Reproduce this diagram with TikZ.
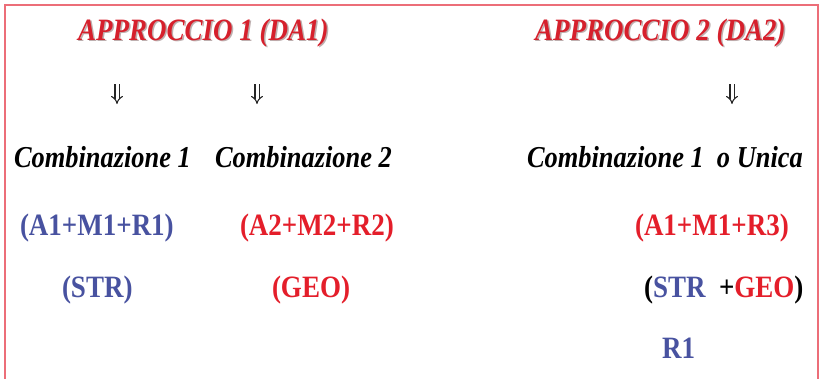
\documentclass[tikz,border=0pt]{standalone}
\usepackage{fontspec}
\setmainfont{Liberation Serif}
\usetikzlibrary{arrows.meta}
\definecolor{tred}{RGB}{214,32,44}
\definecolor{rred}{RGB}{228,30,42}
\definecolor{bblue}{RGB}{72,82,160}
\definecolor{frame}{RGB}{236,110,120}
\definecolor{shadowc}{RGB}{190,175,175}
\newcommand{\tallt}[1]{\scalebox{1}[1.15]{#1}}
\begin{document}
\begin{tikzpicture}[x=1pt,y=-1pt,
  every node/.style={inner sep=0pt,outer sep=0pt,anchor=base west},
  ttl/.style={font=\fontsize{27}{30}\selectfont\bfseries\itshape,text=tred},
  ttlsh/.style={font=\fontsize{27}{30}\selectfont\bfseries\itshape,text=shadowc},
  comb/.style={font=\fontsize{26.4}{30}\selectfont\bfseries\itshape,text=black},
  blu/.style={font=\fontsize{27}{30}\selectfont\bfseries,text=bblue},
  redt/.style={font=\fontsize{27}{30}\selectfont\bfseries,text=rred},
  darr/.style={double=white,draw=black!85,double distance=3pt,line width=1.1pt,-{Implies[length=6pt,width=13pt]}}]
\useasboundingbox (0,0) rectangle (824,378);
\fill[white] (0,0) rectangle (824,378);
\draw[frame,line width=2.2pt] (5,390) -- (5,5) -- (818,5) -- (818,390);
% titles with shadow
\node[ttlsh] (t1s) at (79.5,41.5) {\tallt{APPROCCIO 1 (DA1)}};
\node[ttl] (t1) at (78,40) {\tallt{APPROCCIO 1 (DA1)}};
\node[ttlsh] (t2s) at (536.5,41.5) {\tallt{APPROCCIO 2 (DA2)}};
\node[ttl] (t2) at (535,40) {\tallt{APPROCCIO 2 (DA2)}};
% arrows
\coordinate (a1t) at (117,84); \coordinate (a1b) at (117,104);
\coordinate (a2t) at (257,84); \coordinate (a2b) at (257,104);
\coordinate (a3t) at (732,84); \coordinate (a3b) at (732,104);
\draw[darr] (a1t) -- (a1b);
\draw[darr] (a2t) -- (a2b);
\draw[darr] (a3t) -- (a3b);
% combinations
\node[comb] (c1) at (14,167) {\tallt{Combinazione 1}};
\node[comb] (c2) at (215,167) {\tallt{Combinazione 2}};
\node[comb] (c3) at (527,167) {\tallt{Combinazione 1\ \ o Unica}};
% formulas
\node[blu] (f1) at (20,235) {\tallt{(A1+M1+R1)}};
\node[redt] (f2) at (240,235) {\tallt{(A2+M2+R2)}};
\node[redt] (f3) at (635,235) {\tallt{(A1+M1+R3)}};
% types
\node[blu] (s1) at (62,297) {\tallt{(STR)}};
\node[redt] (s2) at (272,297) {\tallt{(GEO)}};
\node[font=\fontsize{27}{30}\selectfont\bfseries] (s3) at (644,297) {\tallt{(\textcolor{bblue}{STR}\ \ +\textcolor{rred}{GEO})}};
\node[blu] (r1) at (662,358) {\tallt{R1}};
\end{tikzpicture}
\end{document}
